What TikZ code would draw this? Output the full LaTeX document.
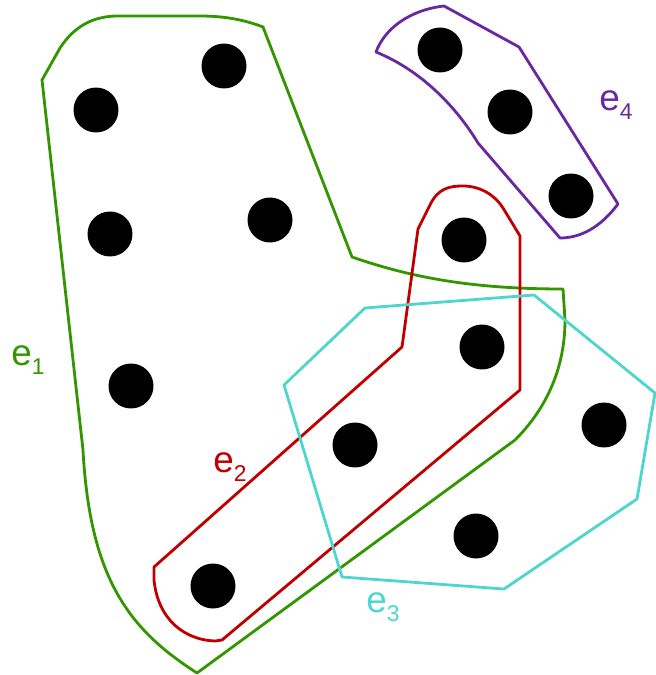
\documentclass[tikz,border=0pt]{standalone}
\usepackage{fontspec}
\setmainfont{Liberation Sans}
\usepackage{tikz}
\usetikzlibrary{positioning}
\definecolor{EdgeGreen}{RGB}{51,150,0}
\definecolor{EdgeRed}{RGB}{192,0,0}
\definecolor{EdgeCyan}{RGB}{78,214,206}
\definecolor{EdgePurple}{RGB}{106,40,160}
\newcommand{\elab}[1]{e\raisebox{-5pt}{\fontsize{13}{15}\selectfont #1}}

\begin{document}
\begin{tikzpicture}[x=0.02cm,y=-0.02cm,
    vtx/.style={circle,fill=black,inner sep=0pt,minimum size=0.9cm},
    hedge/.style={line width=1.6pt,line join=round},
    elabel/.style={font=\fontsize{21}{24}\selectfont,inner sep=0pt}]
      \useasboundingbox (0,0) rectangle (655,675);
      \node[vtx] (v1) at (224,66) {};
      \node[vtx] (v2) at (96,110) {};
      \node[vtx] (v3) at (440,50) {};
      \node[vtx] (v4) at (510,112) {};
      \node[vtx] (v5) at (110,234) {};
      \node[vtx] (v6) at (270,220) {};
      \node[vtx] (v7) at (571,196) {};
      \node[vtx] (v8) at (464,240) {};
      \node[vtx] (v9) at (482,347) {};
      \node[vtx] (v10) at (131,386) {};
      \node[vtx] (v11) at (604,425) {};
      \node[vtx] (v12) at (355,445) {};
      \node[vtx] (v13) at (476,536) {};
      \node[vtx] (v14) at (213,586) {};
      \draw[hedge,EdgeGreen] (42,80) -- (60,48) .. controls (75,25) and (95,16) .. (118,16)
        -- (200,16) .. controls (225,16) and (245,20) .. (263,27) -- (352,257)
        .. controls (410,277) and (470,289) .. (563,289) -- (565,320)
        .. controls (565,370) and (545,410) .. (515,440) -- (197,673)
        .. controls (130,630) and (90,580) .. (83,450) -- cycle;
      \draw[hedge,EdgeRed] (402,347) -- (418,229) -- (430,205)
        .. controls (438,188) and (450,186) .. (463,186)
        .. controls (480,186) and (495,195) .. (503,208) -- (520,236) -- (520,390)
        -- (222,640) -- (215,641) .. controls (185,640) and (158,620) .. (154,580)
        -- (154,567) -- cycle;
      \draw[hedge,EdgeCyan] (365,308) -- (534,295) -- (655,393) -- (637,499)
        -- (504,589) -- (342,577) -- (284,385) -- cycle;
      \draw[hedge,EdgePurple] (376,52) .. controls (385,28) and (410,10) .. (444,6)
        -- (519,47) -- (618,204) .. controls (600,228) and (580,238) .. (560,238)
        -- (478,143) .. controls (455,105) and (420,70) .. cycle;
      \node[elabel,EdgeGreen] (l1) at (28,360) {\elab{1}};
      \node[elabel,EdgeRed] (l2) at (230,467) {\elab{2}};
      \node[elabel,EdgeCyan] (l3) at (383,607) {\elab{3}};
      \node[elabel,EdgePurple] (l4) at (616,105) {\elab{4}};
    \end{tikzpicture}
\end{document}
